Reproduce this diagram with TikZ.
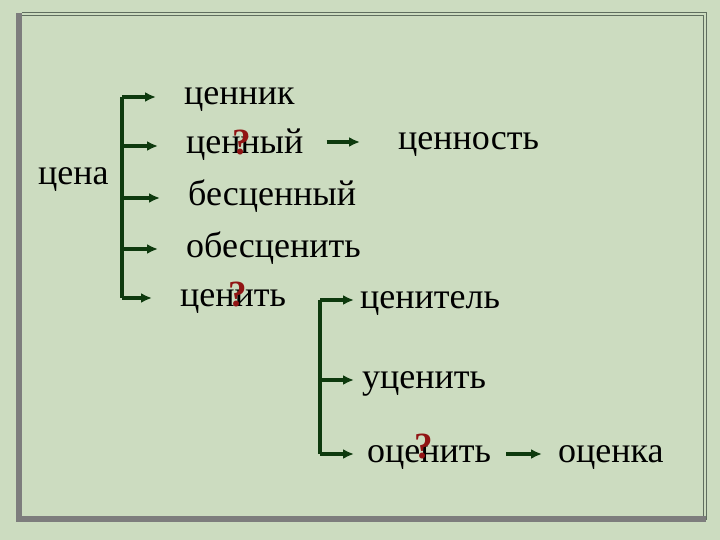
\documentclass[tikz,border=0pt]{standalone}
\usepackage{fontspec}
\setmainfont{Liberation Serif}
\usetikzlibrary{arrows.meta}
\definecolor{slide}{RGB}{204,220,192}
\definecolor{branch}{RGB}{14,58,14}
\definecolor{mark}{RGB}{145,20,20}
\definecolor{rim}{RGB}{125,125,125}
\definecolor{edge}{RGB}{95,110,95}
\tikzstyle{Word} = [anchor=west, inner sep=0pt, text height=16pt, text depth=0pt,
font=\fontsize{36}{40}\selectfont]
\tikzstyle{Ask} = [inner sep=0pt, text=mark, font=\fontsize{37}{40}\selectfont\bfseries]
\tikzstyle{Arrow} = [line width=3.5pt, draw=branch,
-{Latex[length=11pt,width=10pt]}]
\tikzstyle{Bar} = [line width=3.5pt, draw=branch]

\begin{document}
\begin{tikzpicture}[x=1pt, y=-1pt]
    \fill[slide] (0,0) rectangle (720,540);
    \useasboundingbox (0,0) rectangle (720,540);
    % frame
    \draw[edge, line width=1.2pt] (22,12.7) -- (706.5,12.7) -- (706.5,520);
    \draw[edge, line width=1.2pt] (22,15.5) -- (703.5,15.5) -- (703.5,517);
    \draw[rim, line width=6pt] (19,13) -- (19,522);
    \draw[rim, line width=6pt] (16,519) -- (706,519);

    \node[Word] (0) at (38,177) {цена};
    \node[Word] (1) at (184,97) {ценник};
    \node[Word] (2) at (186,146) {ценный};
    \node[Word] (3) at (188,198) {бесценный};
    \node[Word] (4) at (186,249) {обесценить};
    \node[Word] (5) at (180,298) {ценить};
    \node[Word] (7) at (398,142) {ценность};
    \node[Word] (8) at (360,300) {ценитель};
    \node[Word] (9) at (362,380) {уценить};
    \node[Word] (10) at (367,454) {оценить};
    \node[Word] (11) at (558,454) {оценка};

    \node[Ask] (q2) at (242,143) {?};
    \node[Ask] (q5) at (238,295) {?};
    \node[Ask] (q10) at (424,447) {?};

    \coordinate (x1) at (122,0);
    \coordinate (x2) at (320,0);

    \draw[Bar] (x1 |- 1.west) -- (x1 |- 5.west);
    \foreach \w in {1,...,5}
        \draw[Arrow, shorten >=28pt] (x1 |- \w.west) to (\w.west);

    \draw[Bar] (x2 |- 8.west) -- (x2 |- 10.west);
    \draw[Arrow, shorten >=6pt] (x2 |- 8.west) to (8.west);
    \draw[Arrow, shorten >=8pt] (x2 |- 9.west) to (9.west);
    \draw[Arrow, shorten >=13pt] (x2 |- 10.west) to (10.west);

    \draw[Arrow, shorten <=23pt, shorten >=38pt] (7.west -| 2.east) to (7.west);
    \draw[Arrow, shorten <=15pt, shorten >=16pt] (10.east) to (11.west);
\end{tikzpicture}
\end{document}
